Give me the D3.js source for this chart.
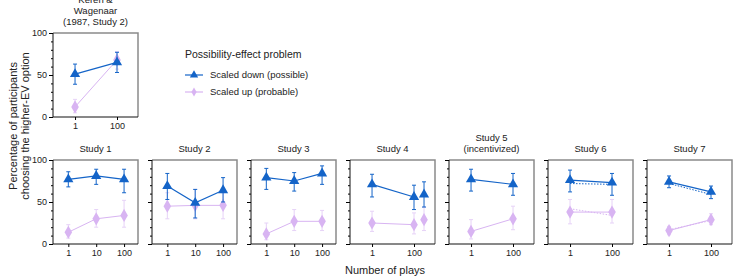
<!DOCTYPE html>
<html>
<head>
<meta charset="utf-8">
<script src="https://cdn.jsdelivr.net/npm/d3@7"></script>
<style>
  body { margin: 0; background: #fff; }
  svg { font-family: "Liberation Sans", Arial, Helvetica, sans-serif; }
</style>
</head>
<body>
<svg id="chart" width="741" height="277"></svg>
<script>
// panel 0 is the Keren & Wagenaar panel on top, 1..7 are the studies
const panelTitles = [
  ["Keren &", "Wagenaar", "(1987, Study 2)"],
  ["Study 1"], ["Study 2"], ["Study 3"], ["Study 4"],
  ["Study 5", "(incentivized)"], ["Study 6"], ["Study 7"]
];
const xTicks = [
  [1, 100], [1, 10, 100], [1, 10, 100], [1, 10, 100],
  [1, 100], [1, 100], [1, 100], [1, 100]
];
const plays = [
  [1, 100], [1, 10, 100], [1, 10, 100], [1, 10, 100],
  [1, 100, 300], [1, 100], [1, 100], [1, 100]
];
// scaled down (possible)
const downMean = [[51, 65], [77, 81, 77], [69, 49, 64], [79, 75, 84], [71, 56, 59], [77, 71], [76, 73], [74, 62]];
const downLo   = [[39, 53], [68, 71, 61], [53, 31, 50], [65, 63, 71], [56, 41, 44], [63, 58], [62, 58], [67, 54]];
const downHi   = [[63, 77], [86, 89, 89], [84, 65, 79], [90, 85, 93], [83, 70, 74], [89, 84], [88, 84], [81, 69]];
// scaled up (probable)
const upMean = [[12, 68], [14, 30, 34], [45, 46, 46], [12, 27, 27], [25, 23, 29], [15, 30], [38, 38], [16, 29]];
const upLo   = [[5, 57], [7, 20, 20], [30, 30, 30], [5, 16, 16], [15, 12, 16], [6, 17], [24, 25], [11, 23]];
const upHi   = [[21, 78], [23, 41, 52], [61, 65, 61], [25, 41, 40], [39, 37, 44], [29, 45], [53, 53], [21, 36]];
// second version shown dotted in studies 6 and 7
const downDotted = [null, null, null, null, null, null, [72, 71], [72, 59]];
const upDotted   = [null, null, null, null, null, null, [42, 34], [17, 28]];

const blue = "#1464c8";
const purple = "#d8b4f2";
const purpleLight = "#e6d2f7";

const svg = d3.select("#chart");
const pw = 85, ph = 84;

const panels = [{ x: 53, y: 33 }];
for (let i = 0; i < 7; i++) panels.push({ x: 53 + i * 99, y: 160 });

const y = d3.scaleLinear().domain([0, 100]).range([ph, 0]);

panels.forEach((p, i) => {
  const g = svg.append("g").attr("transform", `translate(${p.x},${p.y})`);
  const x = d3.scaleLog()
    .domain(xTicks[i].length === 3 ? [Math.pow(10, -0.55), Math.pow(10, 2.5)] : [Math.pow(10, -1.05), 1000])
    .range([0, pw]);

  // frame: grey top/right
  g.append("path")
    .attr("d", `M0,0H${pw}V${ph}`)
    .attr("fill", "none").attr("stroke", "#8a8a8a").attr("stroke-width", 1.5);

  // y axis
  g.append("g").call(d3.axisLeft(y).tickValues(d3.range(0, 101, 10)).tickSize(2).tickFormat(""))
    .call(a => a.select(".domain").remove());
  const showY = i <= 1;
  g.append("g").call(d3.axisLeft(y).tickValues([0, 50, 100]).tickSize(4).tickPadding(2)
      .tickFormat(showY ? d3.format("d") : ""))
    .call(a => a.selectAll("text").attr("font-size", 9).attr("fill", "#222").attr("font-family", null))
    .call(a => a.select(".domain").attr("d", `M0,0V${ph}`).attr("stroke", "#111"));

  // x axis
  g.append("g").attr("transform", `translate(0,${ph})`)
    .call(d3.axisBottom(x).tickValues(xTicks[i]).tickSize(3).tickPadding(3).tickFormat(d3.format("d")))
    .call(a => a.selectAll("text").attr("font-size", 9).attr("fill", "#222").attr("font-family", null))
    .call(a => a.select(".domain").attr("d", `M0,0H${pw}`).attr("stroke", "#111"));

  // title
  const lines = panelTitles[i];
  lines.forEach((t, k) => {
    g.append("text")
      .attr("x", pw / 2)
      .attr("y", -8 - (lines.length - 1 - k) * 11)
      .attr("text-anchor", "middle")
      .attr("font-size", 9.5).attr("fill", "#222")
      .text(t);
  });

  const line = d3.line().x((d, k) => x(plays[i][k])).y(d => y(d));

  // dotted variants
  if (upDotted[i]) {
    g.append("path").attr("d", line(upDotted[i])).attr("fill", "none")
      .attr("stroke", purple).attr("stroke-width", 1).attr("stroke-dasharray", "1.5,1.5");
  }
  if (downDotted[i]) {
    g.append("path").attr("d", line(downDotted[i])).attr("fill", "none")
      .attr("stroke", blue).attr("stroke-width", 1).attr("stroke-dasharray", "1.5,1.5");
  }

  function series(mean, lo, hi, col, errCol, symbol, size, lw) {
    const px = plays[i].slice(0, mean.length);
    // study 4: the extra point is not joined by the line
    const joined = i === 4 ? mean.slice(0, 2) : mean;
    g.append("path").attr("d", line(joined)).attr("fill", "none")
      .attr("stroke", col).attr("stroke-width", lw);
    mean.forEach((m, k) => {
      const cx = x(px[k]);
      g.append("line").attr("x1", cx).attr("x2", cx).attr("y1", y(lo[k])).attr("y2", y(hi[k]))
        .attr("stroke", errCol).attr("stroke-width", 1);
      [lo[k], hi[k]].forEach(v => {
        g.append("line").attr("x1", cx - 2).attr("x2", cx + 2).attr("y1", y(v)).attr("y2", y(v))
          .attr("stroke", errCol).attr("stroke-width", 1);
      });
      g.append("path").attr("d", d3.symbol(symbol, size)())
        .attr("transform", `translate(${cx},${y(m)})`)
        .attr("fill", col);
    });
  }
  series(upMean[i], upLo[i], upHi[i], purple, purpleLight, d3.symbolDiamond, 50, 1);
  series(downMean[i], downLo[i], downHi[i], blue, blue, d3.symbolTriangle, 45, 1.2);
});

// legend
const lg = svg.append("g").attr("transform", "translate(185,0)");
lg.append("text").attr("x", 0).attr("y", 58).attr("font-size", 10.5).attr("fill", "#222")
  .text("Possibility-effect problem");
const legendItems = [
  { label: "Scaled down (possible)", col: blue, sym: d3.symbolTriangle, size: 30, y: 78 },
  { label: "Scaled up (probable)", col: purple, sym: d3.symbolDiamond, size: 24, y: 95 }
];
legendItems.forEach(d => {
  lg.append("line").attr("x1", 0).attr("x2", 18).attr("y1", d.y - 3).attr("y2", d.y - 3)
    .attr("stroke", d.col).attr("stroke-width", 1.2);
  lg.append("path").attr("d", d3.symbol(d.sym, d.size)())
    .attr("transform", `translate(9,${d.y - 3})`).attr("fill", d.col);
  lg.append("text").attr("x", 25).attr("y", d.y).attr("font-size", 9.5).attr("fill", "#222").text(d.label);
});

// axis titles
const yt = svg.append("g").attr("transform", "translate(18,126) rotate(-90)");
yt.append("text").attr("text-anchor", "middle").attr("y", -1).attr("font-size", 11).attr("fill", "#222")
  .text("Percentage of participants");
yt.append("text").attr("text-anchor", "middle").attr("y", 11).attr("font-size", 11).attr("fill", "#222")
  .text("choosing the higher-EV option");

svg.append("text").attr("x", 385).attr("y", 274).attr("text-anchor", "middle")
  .attr("font-size", 11).attr("fill", "#222").text("Number of plays");
</script>
</body>
</html>
